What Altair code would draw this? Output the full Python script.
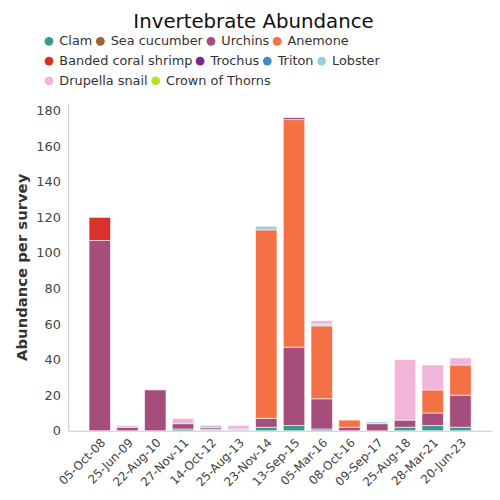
import altair as alt
import pandas as pd

dates = ["05-Oct-08", "25-Jun-09", "22-Aug-10", "27-Nov-11", "14-Oct-12", "25-Aug-13",
         "23-Nov-14", "13-Sep-15", "05-Mar-16", "08-Oct-16", "09-Sep-17", "25-Aug-18",
         "28-Mar-21", "20-Jun-23"]

species = ["Clam", "Sea cucumber", "Urchins", "Anemone", "Banded coral shrimp",
           "Trochus", "Triton", "Lobster", "Drupella snail", "Crown of Thorns"]

colors = ["#3a9a8f", "#9a6331", "#a54e7b", "#f47045", "#d9322c",
          "#7a2a8b", "#3e8dc5", "#95cfe0", "#f1b5d9", "#b6e02a"]

clam = [0, 0, 0, 1, 0.5, 0, 2, 3, 1, 0, 0, 2, 3, 2]
sea_cucumber = [0, 0, 0, 0, 0.5, 0, 0, 0, 0, 0, 0, 0, 0, 0]
urchins = [107, 2, 23, 3, 1, 0, 5, 44, 17, 2, 4, 4, 7, 18]
anemone = [0, 0, 0, 0, 0.3, 0, 106, 128, 41, 4, 0, 0, 13, 17]
banded_shrimp = [13, 0, 0, 0, 0, 0, 0, 0, 0, 0, 0, 0, 0, 0]
trochus = [0, 0, 0, 0, 0.5, 0, 0, 1, 0, 0, 0, 0, 0, 0]
triton = [0, 0, 0, 0, 0, 0, 0, 0, 0, 0, 0, 0, 0, 0]
lobster = [0, 0, 0, 0, 0, 1, 2, 0, 1, 0, 1, 0, 0, 0]
drupella = [0, 1, 0, 3, 0, 2, 0, 0, 2, 0, 0, 34, 14, 4]
crown_of_thorns = [0, 0, 0, 0, 0, 0, 0, 0, 0, 0, 0, 0, 0, 0]

series = [clam, sea_cucumber, urchins, anemone, banded_shrimp,
          trochus, triton, lobster, drupella, crown_of_thorns]

rows = []
for si, (name, vals) in enumerate(zip(species, series)):
    for d, v in zip(dates, vals):
        rows.append({"date": d, "species": name, "value": v, "order": si})
df = pd.DataFrame(rows)

x_enc = alt.X("date:N", sort=dates, title=None,
              scale=alt.Scale(paddingInner=0.227, paddingOuter=0.75, align=0.5),
              axis=alt.Axis(labelAngle=-45, labelFontSize=12, labelColor="#444",
                            ticks=False, domainColor="#c8c8c8", labelPadding=6))
y_enc = alt.Y("value:Q", stack="zero", title="Abundance per survey",
              scale=alt.Scale(domain=[0, 184.4], nice=False),
              axis=alt.Axis(values=list(range(0, 181, 20)), grid=False, ticks=False,
                            domainColor="#c8c8c8", labelFontSize=13, labelColor="#444",
                            titleFontSize=15, titleColor="#333", titleFontWeight="bold",
                            labelPadding=8, titlePadding=6))

base = alt.Chart(df)

bars = base.transform_filter("datum.value > 0").mark_bar(
    stroke="white", strokeWidth=1, strokeOpacity=0.6
).encode(
    x=x_enc,
    y=y_enc,
    color=alt.Color("species:N", scale=alt.Scale(domain=species, range=colors), legend=None),
    order=alt.Order("order:Q", sort="ascending"),
)

# legend rows (flowing rows like the original)
row_groups = [(0, 4), (4, 8), (8, 10)]
legend_layers = []
for ri, (a, b) in enumerate(row_groups):
    sub = species[a:b]
    layer = base.transform_filter(
        alt.FieldOneOfPredicate(field="species", oneOf=sub)
    ).mark_point(filled=True, opacity=0).encode(
        x=alt.value(0),
        y=alt.value(0),
        color=alt.Color("species:N", scale=alt.Scale(domain=sub, range=colors[a:b]),
                        title=None,
                        legend=alt.Legend(orient="none", direction="horizontal",
                                          legendX=-26, legendY=-69 + ri * 20,
                                          symbolType="circle", symbolSize=80,
                                          symbolOpacity=1, symbolStrokeWidth=0,
                                          labelFontSize=13, labelColor="#333",
                                          columnPadding=1, labelOffset=4)),
    )
    legend_layers.append(layer)

chart = alt.layer(bars, *legend_layers).resolve_scale(color="independent").properties(
    width=429, height=332,
    padding={"left": 7, "top": 1, "right": 0, "bottom": 5},
    title=alt.Title("Invertebrate Abundance", fontSize=20, fontWeight="normal",
                    color="#111", offset=3, anchor="middle", frame="bounds"),
).configure(font="DejaVu Sans", view=alt.ViewConfig(strokeWidth=0))

chart.save("out.html", embed_options={"renderer": "svg", "actions": False})
